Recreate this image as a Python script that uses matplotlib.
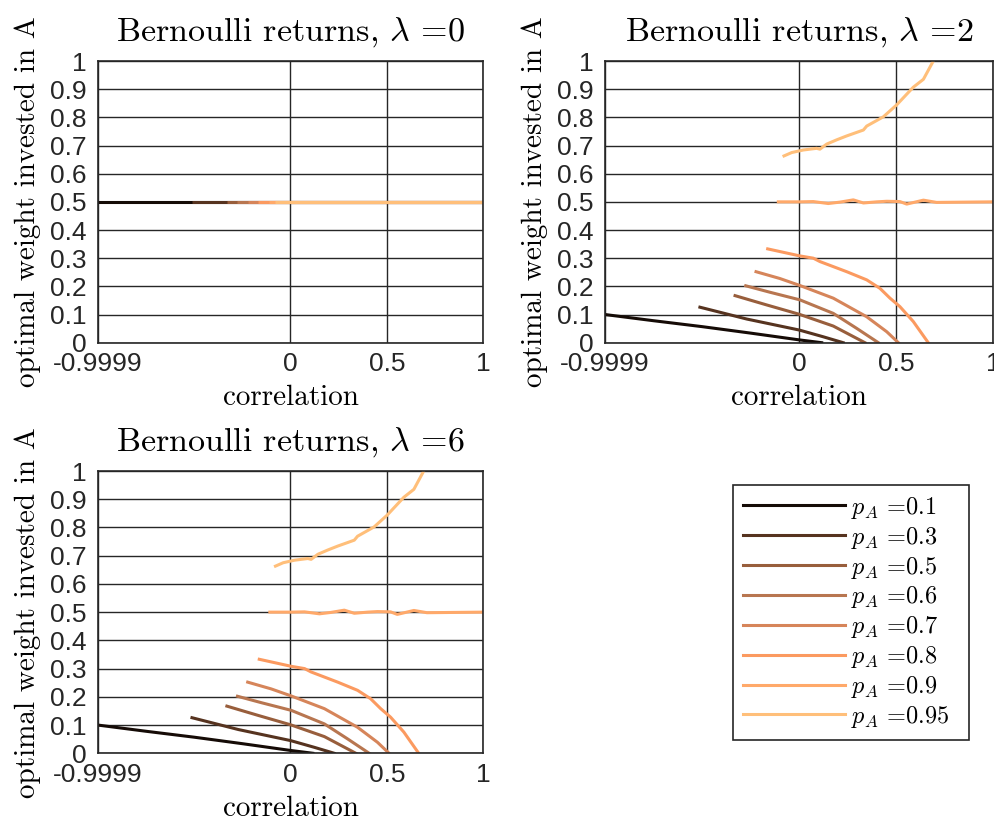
import matplotlib
matplotlib.use('Agg')
import matplotlib.pyplot as plt

plt.rcParams['mathtext.fontset'] = 'cm'
plt.rcParams['axes.unicode_minus'] = False

# probabilities of asset A and the line colours (copper-like map)
p_values = [0.1, 0.3, 0.5, 0.6, 0.7, 0.8, 0.9, 0.95]
line_colors = ['#150b06', '#56331f', '#985e3c', '#b87650', '#d6855a',
               '#fb9a60', '#ffa96a', '#ffbf7a']

# lambda = 0: weight is flat at 0.5 from the smallest feasible correlation up to 1
rho_start = [-0.9999, -0.511, -0.330, -0.275, -0.222, -0.166, -0.110, -0.078]
w_flat = 0.5

# lambda = 2 (the lambda = 6 panel shows the same curves)
rho_01 = [-0.9999, -0.75, -0.5, -0.25, 0.0, 0.116]
w_01 = [0.100, 0.078, 0.057, 0.034, 0.010, 0.0]

rho_03 = [-0.511, -0.27, 0.0, 0.124, 0.227]
w_03 = [0.126, 0.084, 0.045, 0.021, 0.0]

rho_05 = [-0.330, -0.167, 0.0, 0.176, 0.339]
w_05 = [0.167, 0.134, 0.101, 0.059, 0.0]

rho_06 = [-0.275, -0.15, 0.004, 0.176, 0.296, 0.408]
w_06 = [0.202, 0.179, 0.152, 0.104, 0.051, 0.0]

rho_07 = [-0.222, -0.1, 0.004, 0.176, 0.348, 0.451, 0.511]
w_07 = [0.252, 0.228, 0.203, 0.158, 0.092, 0.039, 0.0]

rho_08 = [-0.162, 0.004, 0.073, 0.107, 0.176, 0.245, 0.348, 0.416, 0.468, 0.519, 0.588, 0.665]
w_08 = [0.333, 0.308, 0.300, 0.288, 0.270, 0.252, 0.223, 0.193, 0.158, 0.128, 0.075, 0.0]

rho_09 = [-0.107, 0.004, 0.073, 0.150, 0.210, 0.279, 0.331, 0.400, 0.451, 0.519, 0.554, 0.640, 0.708, 1.0]
w_09 = [0.500, 0.500, 0.501, 0.494, 0.499, 0.507, 0.496, 0.500, 0.502, 0.501, 0.492, 0.506, 0.498, 0.500]

rho_095 = [-0.078, -0.038, 0.021, 0.090, 0.107, 0.142, 0.193, 0.245, 0.331, 0.348, 0.434, 0.502, 0.588, 0.640, 0.691]
w_095 = [0.663, 0.675, 0.684, 0.690, 0.687, 0.705, 0.720, 0.734, 0.755, 0.769, 0.802, 0.844, 0.907, 0.935, 1.0]

curves_rho = [rho_01, rho_03, rho_05, rho_06, rho_07, rho_08, rho_09, rho_095]
curves_w = [w_01, w_03, w_05, w_06, w_07, w_08, w_09, w_095]

x_ticks = [-0.9999, 0, 0.5, 1]
x_ticklabels = ['-0.9999', '0', '0.5', '1']
y_ticks = [0, 0.1, 0.2, 0.3, 0.4, 0.5, 0.6, 0.7, 0.8, 0.9, 1]
y_ticklabels = ['0', '0.1', '0.2', '0.3', '0.4', '0.5', '0.6', '0.7', '0.8', '0.9', '1']

serif = 'cmr10'
tick_font = 'Liberation Sans'


def style_axes(ax, lam):
    ax.set_xlim(-1, 1)
    ax.set_ylim(0, 1)
    ax.set_xticks(x_ticks)
    ax.set_xticklabels(x_ticklabels, fontfamily=tick_font, fontsize=19)
    ax.set_yticks(y_ticks)
    ax.set_yticklabels(y_ticklabels, fontfamily=tick_font, fontsize=19)
    ax.tick_params(length=0, colors='#262626', labelcolor='#262626')
    ax.tick_params(axis='y', pad=8)
    ax.tick_params(axis='x', pad=7)
    ax.grid(True, color='#262626', linewidth=1.0)
    ax.set_axisbelow(True)
    for s in ax.spines.values():
        s.set_color('#262626')
        s.set_linewidth(1.2)
    ax.set_title(r'Bernoulli returns, $\lambda$ =' + str(lam),
                 fontfamily=serif, fontsize=24.5, pad=15)
    ax.set_xlabel('correlation', fontfamily=serif, fontsize=21)
    ax.set_ylabel('optimal weight invested in A', fontfamily=serif, fontsize=21)
    ax.xaxis.set_label_coords(0.5, -0.15)
    ax.yaxis.set_label_coords(-0.147, 0.5)


fig = plt.figure(figsize=(9.95, 8.21), dpi=100)
ax1 = fig.add_axes([0.0982, 0.5826, 0.3875, 0.3431])
ax2 = fig.add_axes([0.608, 0.5826, 0.3903, 0.3431])
ax3 = fig.add_axes([0.0982, 0.0825, 0.3875, 0.3438])

for i, p in enumerate(p_values):
    ax1.plot([rho_start[i], 1.0], [w_flat, w_flat], color=line_colors[i], lw=2.2,
             solid_capstyle='butt')

handles = []
for ax in (ax2, ax3):
    for i, p in enumerate(p_values):
        ln, = ax.plot(curves_rho[i], curves_w[i], color=line_colors[i], lw=2.2,
                      label=r'$p_A$ =' + str(p))
        if ax is ax2:
            handles.append(ln)

style_axes(ax1, 0)
style_axes(ax2, 2)
style_axes(ax3, 6)

leg = fig.legend(handles=handles, loc='upper left',
                 bbox_to_anchor=(733 / 995, 1 - 737 / 821, 236 / 995, 252 / 821),
                 mode='expand',
                 prop={'family': serif, 'size': 17.5},
                 frameon=True, fancybox=False, framealpha=1,
                 edgecolor='#262626', borderaxespad=0, borderpad=0.4,
                 handlelength=4.2, handletextpad=0.25, labelspacing=0.16)
leg.get_frame().set_linewidth(1.2)

fig.savefig('out.png', dpi=100)
